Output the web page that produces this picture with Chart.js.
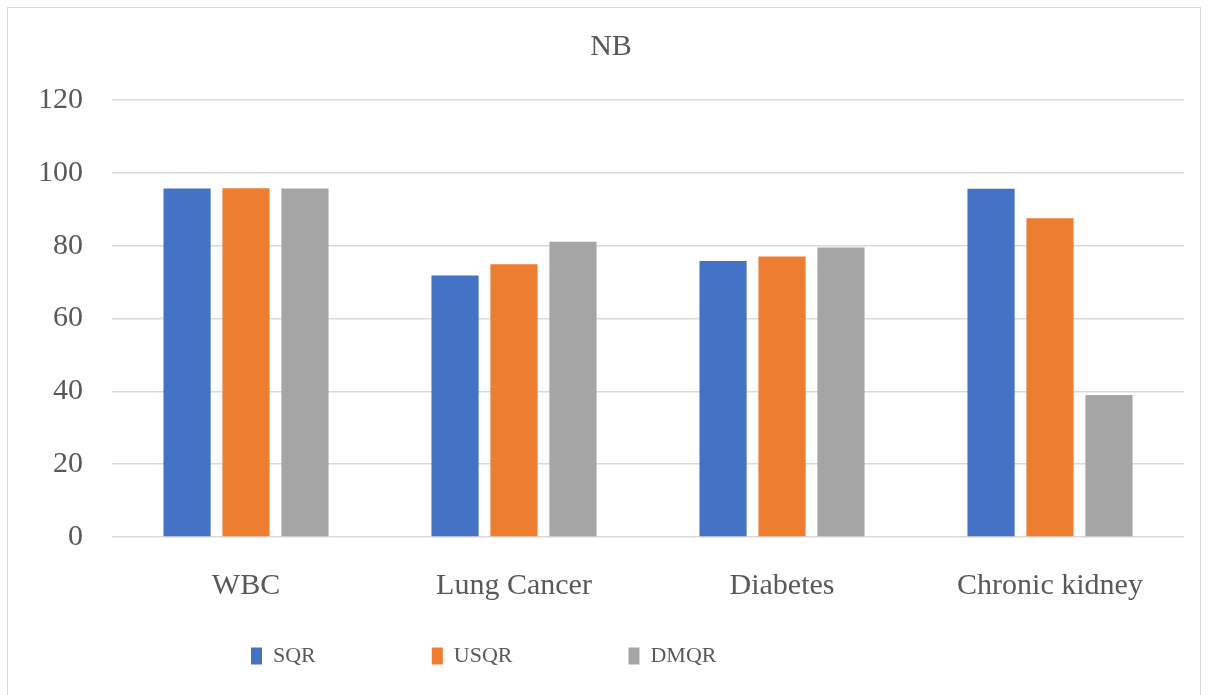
<!DOCTYPE html>
<html>
<head>
<meta charset="utf-8">
<script src="https://cdn.jsdelivr.net/npm/chart.js@4.4.1/dist/chart.umd.min.js"></script>
<style>
  html, body { margin: 0; padding: 0; background: #fff; }
  #wrap { position: relative; width: 1208px; height: 695px; overflow: hidden; }
  #frame { position: absolute; left: 7px; top: 7px; width: 1194px; height: 700px; border: 1px solid #d9d9d9; box-sizing: border-box; }
  canvas { position: absolute; left: 0; top: 0; }
</style>
</head>
<body>
<div id="wrap">
  <div id="frame"></div>
  <canvas id="nbChart" width="1208" height="695"></canvas>
</div>
<script>
const categories = ['WBC', 'Lung Cancer', 'Diabetes', 'Chronic kidney'];
const seriesNames = ['SQR', 'USQR', 'DMQR'];
const sqrValues = [95.7, 71.8, 75.8, 95.6];
const usqrValues = [95.8, 74.9, 77.0, 87.5];
const dmqrValues = [95.7, 81.1, 79.5, 39.0];
const yTicks = [0, 20, 40, 60, 80, 100, 120];

const textColor = '#595959';
const serif = '"Liberation Serif", "Times New Roman", serif';

// legend: wide gaps between items like the Excel original, but keep its box short
const legendPlace = {
    id: 'legendPlace',
    beforeLayout(chart) {
        const lg = chart.legend;
        if (lg && !lg._shortFit) {
            const fit = lg.fit.bind(lg);
            lg.fit = function () { fit(); this.height = 93; };
            lg._shortFit = true;
        }
    },
    afterLayout(chart) {
        const lg = chart.legend;
        const pad = lg.options.labels.padding;
        lg.left = 251 - pad;
        lg.top = 645 - pad;
    }
};

new Chart(document.getElementById('nbChart'), {
    type: 'bar',
    data: {
        labels: categories,
        datasets: [
            { label: seriesNames[0], data: sqrValues, backgroundColor: '#4472C4' },
            { label: seriesNames[1], data: usqrValues, backgroundColor: '#ED7D31' },
            { label: seriesNames[2], data: dmqrValues, backgroundColor: '#A5A5A5' }
        ]
    },
    options: {
        responsive: false,
        animation: false,
        devicePixelRatio: 1,
        layout: { padding: { left: 38, right: 24, top: 0, bottom: 0 } },
        datasets: { bar: { categoryPercentage: 0.66, barPercentage: 0.8 } },
        scales: {
            x: {
                grid: { display: false },
                border: { display: false },
                ticks: { color: textColor, font: { family: serif, size: 30 }, padding: 23, maxRotation: 0 },
                afterFit: (scale) => { scale.height = 65; }
            },
            y: {
                min: 0, max: 120,
                afterBuildTicks: (axis) => { axis.ticks = yTicks.map(v => ({ value: v })); },
                grid: { color: '#d9d9d9', lineWidth: 1.5, drawTicks: false },
                border: { display: false },
                ticks: { color: textColor, font: { family: serif, size: 30 }, padding: 29 },
                afterFit: (scale) => { scale.width = 74; }
            }
        },
        plugins: {
            title: {
                display: true, text: 'NB', color: textColor,
                font: { family: serif, size: 30, weight: 'normal' },
                padding: { top: 29, bottom: 35 }
            },
            legend: {
                position: 'bottom', align: 'start',
                labels: { color: textColor, font: { family: serif, size: 22 }, boxWidth: 11, boxHeight: 17, padding: 116 }
            },
            tooltip: { enabled: false }
        }
    },
    plugins: [legendPlace]
});
</script>
</body>
</html>
